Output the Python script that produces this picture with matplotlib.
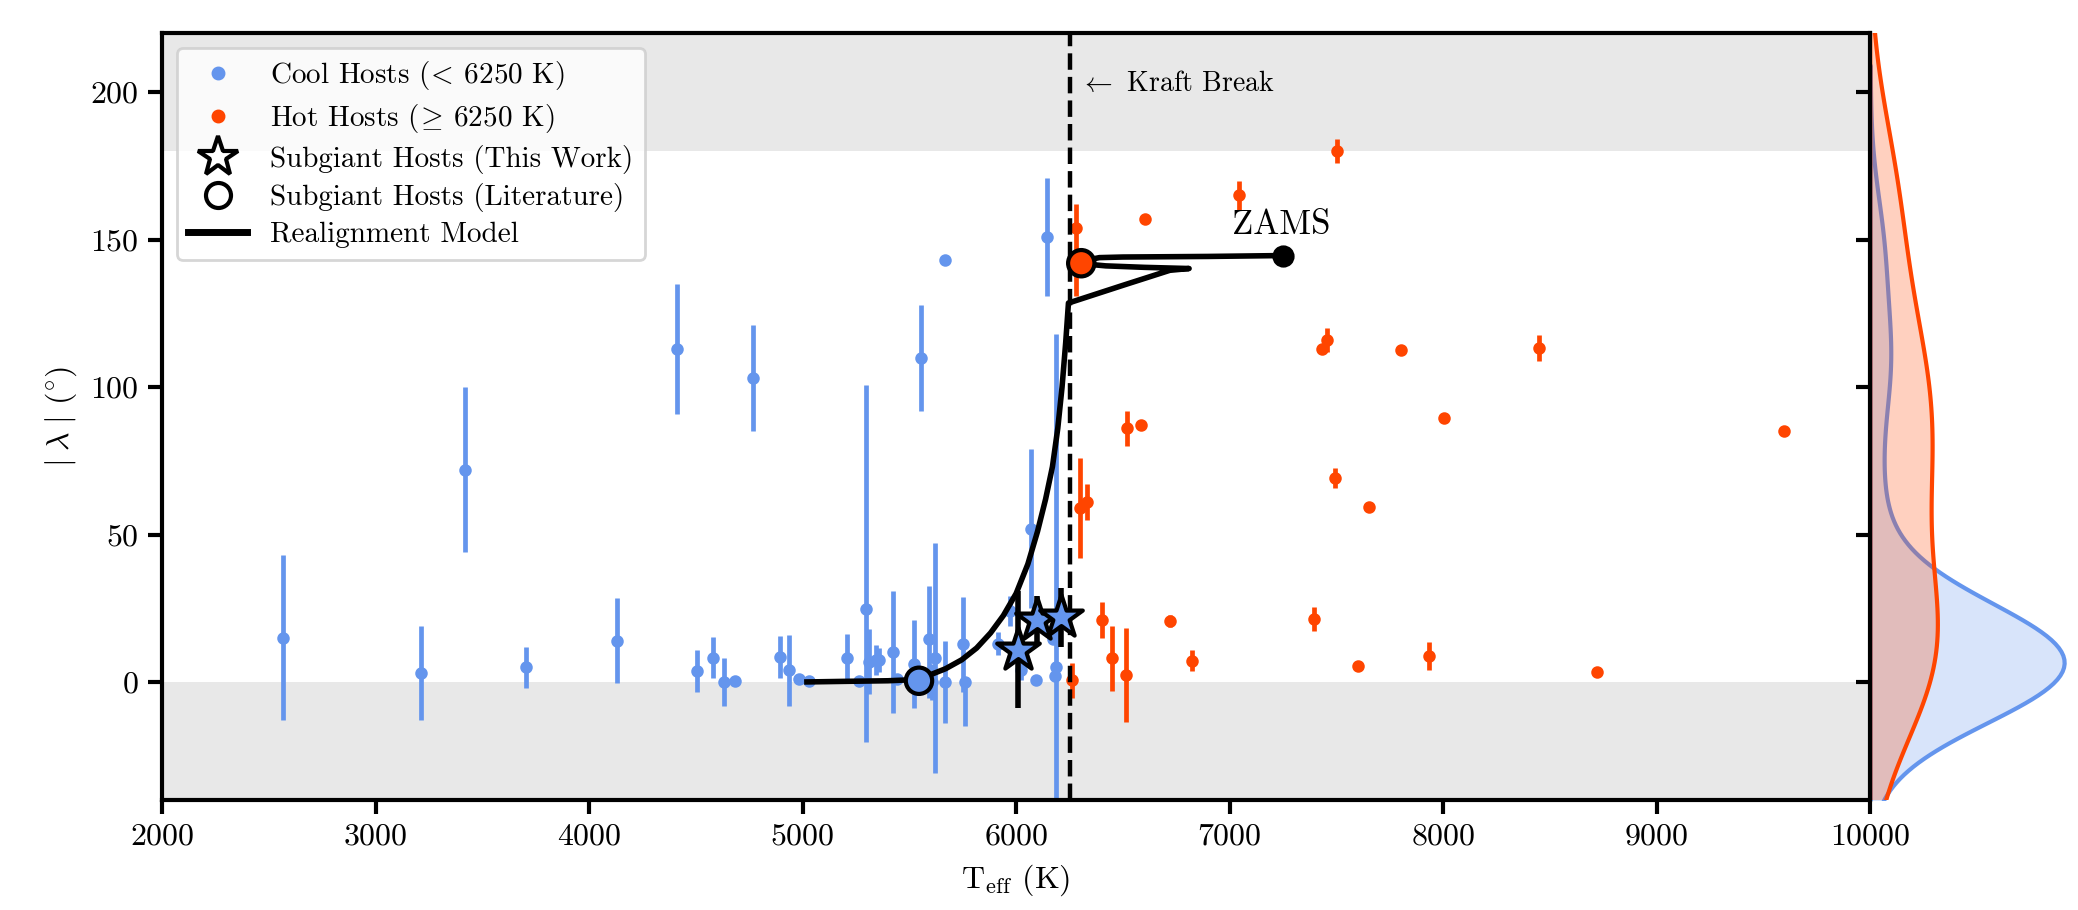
import numpy as np
import matplotlib
import matplotlib.pyplot as plt
import seaborn as sns
from matplotlib.lines import Line2D

plt.rcParams['font.family'] = 'serif'
plt.rcParams['font.serif'] = ['cmr10']
plt.rcParams['mathtext.fontset'] = 'cm'
plt.rcParams['axes.formatter.use_mathtext'] = True
plt.rcParams['axes.unicode_minus'] = False

# 冷主星 (< 6250 K)
cool_teff = [2565, 3213, 3420, 3703, 4131, 4412, 4506, 4581, 4631, 4685, 4766, 4895, 4935, 4982,
             5031, 5210, 5264, 5298, 5311, 5342, 5357, 5421, 5443, 5520, 5556, 5590, 5606, 5621,
             5668, 5668, 5753, 5761, 5916, 5971, 6025, 6068, 6095, 6146, 6172, 6180, 6188]
cool_lam = [15, 3, 72, 5, 14, 113, 3.7, 8.2, 0, 0.4, 103, 8.5, 4, 1.1,
            0.4, 8.2, 0.4, 24.8, 6.8, 7.5, 7.5, 10.2, 1, 6, 110, 14.5, 0, 8,
            0, 143, 12.7, 0, 13, 24, 4, 52, 0.7, 151, 14.5, 2, 5]
cool_err_lo = [28, 16, 28, 7, 14.5, 22, 7, 7, 8, 0, 18, 7, 12, 0,
               0, 8, 0, 45, 11, 5, 4, 20.6, 0, 15, 18, 20, 6, 39,
               14, 0, 16, 15, 4, 5, 3.5, 27, 0, 20, 0, 0, 115]
cool_err_hi = [28, 16, 28, 7, 14.5, 22, 7, 7, 8, 0, 18, 7, 12, 0,
               0, 8, 0, 76, 11, 5, 4, 20.6, 0, 15, 18, 18, 6, 39,
               14, 0, 16, 0, 4, 5, 3.5, 27, 0, 20, 0, 0, 113]

# 热主星 (>= 6250 K)
hot_teff = [6262, 6281, 6300, 6331, 6400, 6450, 6516, 6520, 6586, 6602, 6722, 6822, 7045,
            7395, 7433, 7456, 7492, 7502, 7600, 7652, 7802, 7933, 8003, 8451, 8720, 9597]
hot_lam = [0.5, 154, 59, 61, 21, 8, 2.3, 86, 87, 157, 20.7, 7.2, 165,
           21.3, 113, 116, 69.2, 180, 5.5, 59.2, 112.6, 8.9, 89.5, 113.2, 3.5, 85]
hot_err_lo = [6, 23, 17, 6, 6, 11, 16, 6, 0, 0, 2, 3.6, 4.8,
              4, 0, 4, 3.3, 4, 0, 0, 0, 4.8, 0, 4.4, 1.5, 0]
hot_err_hi = [6, 8, 17, 6, 6, 11, 16, 6, 0, 0, 2, 3.6, 4.8,
              4, 0, 4, 3.3, 4, 0, 0, 0, 4.8, 0, 4.4, 1.5, 0]

# 本工作的亚巨星
sg_teff = [6010, 6100, 6210]
sg_lam = [11, 21, 22]
sg_err = [20, 8, 10]

# 文献中的亚巨星
lit_teff = [5545, 6305]
lit_lam = [0.4, 142]
lit_color = ['cornflowerblue', 'orangered']

# 重新对齐模型轨迹
model_teff = [7250, 6900, 6500, 6390, 6355, 6345, 6360, 6420, 6600, 6810, 6720, 6500, 6245,
              6232, 6215, 6195, 6170, 6138, 6100, 6055, 6000, 5940, 5880, 5815, 5745, 5670,
              5590, 5531, 5400, 5200, 5020]
model_lam = [144.6, 144.3, 144.1, 143.9, 143.4, 142.3, 141.5, 141.1, 140.6, 140.2, 139.6, 134.5, 128.5,
             115, 100, 86, 73, 62, 51, 40, 30, 22.5, 16.6, 11.5, 7.5, 4.5,
             2.2, 0.8, 0.4, 0.2, 0.0]
zams = (7250, 144.6)

kraft = 6250

fig = plt.figure(figsize=(10.39, 4.55), dpi=200)
ax = fig.add_axes([0.078, 0.121, 0.822, 0.8425])
axk = fig.add_axes([0.900, 0.121, 0.098, 0.8425], sharey=ax)

ax.axhspan(180, 220, color='#e8e8e8', lw=0, zorder=0)
ax.axhspan(-40, 0, color='#e8e8e8', lw=0, zorder=0)

ax.errorbar(cool_teff, cool_lam, yerr=[cool_err_lo, cool_err_hi], fmt='o', color='cornflowerblue',
            ms=3.5, elinewidth=1.7, capsize=0, zorder=2)
ax.errorbar(hot_teff, hot_lam, yerr=[hot_err_lo, hot_err_hi], fmt='o', color='orangered',
            ms=3.5, elinewidth=1.7, capsize=0, zorder=2)

ax.axvline(kraft, color='k', ls='--', lw=1.6, zorder=3)
ax.text(6300, 203, r'$\leftarrow$ Kraft Break', fontsize=10, va='center')

ax.plot(model_teff, model_lam, color='k', lw=2, zorder=4)
ax.plot(*zams, 'o', color='k', ms=7, zorder=5)
ax.text(zams[0] - 10, zams[1] + 5, 'ZAMS', fontsize=12.5, ha='center', va='bottom')

ax.scatter(lit_teff, lit_lam, s=90, c=lit_color, edgecolors='k', linewidths=1.5, zorder=6)
ax.errorbar(sg_teff, sg_lam, yerr=sg_err, fmt='none', ecolor='k', elinewidth=2, capsize=0, zorder=6)
ax.scatter(sg_teff, sg_lam, s=260, marker='*', c='cornflowerblue', edgecolors='k',
           linewidths=1.5, zorder=7)

ax.set_xlim(2000, 10000)
ax.set_ylim(-40, 220)
ax.set_xticks([2000, 3000, 4000, 5000, 6000, 7000, 8000, 9000, 10000])
ax.set_yticks([0, 50, 100, 150, 200])
ax.set_xlabel(r'T$_{\rm eff}$ (K)', fontsize=11.5)
ax.set_ylabel(r'$|\;\lambda\;|$ ($^{\circ}$)', fontsize=11.5)
ax.tick_params(labelsize=11.5, width=1.5, length=5)
for s in ax.spines.values():
    s.set_linewidth(1.5)
ax.spines['right'].set_visible(False)

handles = [
    Line2D([], [], ls='none', marker='o', color='cornflowerblue', ms=4),
    Line2D([], [], ls='none', marker='o', color='orangered', ms=4),
    Line2D([], [], ls='none', marker='*', mfc='white', mec='k', mew=1.5, ms=15),
    Line2D([], [], ls='none', marker='o', mfc='white', mec='k', mew=1.5, ms=9),
    Line2D([], [], color='k', lw=2.5),
]
labels = [r'Cool Hosts ($\!<\!$ 6250 K)', r'Hot Hosts ($\!\geq\!$ 6250 K)', 'Subgiant Hosts (This Work)',
          'Subgiant Hosts (Literature)', 'Realignment Model']
ax.legend(handles, labels, loc='upper left', fontsize=10.5, labelspacing=0.33)

# 边缘核密度分布
sns.kdeplot(y=cool_lam, ax=axk, color='cornflowerblue', fill=True, alpha=0.25, linewidth=1.5)
sns.kdeplot(y=hot_lam, ax=axk, color='orangered', fill=True, alpha=0.25, linewidth=1.5)
axk.set_xlim(0, None)
axk.margins(x=0.01)
axk.set_ylim(-40, 220)
axk.set_xlabel('')
axk.set_ylabel('')
axk.set_xticks([])
axk.tick_params(axis='y', labelleft=False, width=1.5, length=5)
for k in ['top', 'right', 'bottom']:
    axk.spines[k].set_visible(False)
axk.spines['left'].set_linewidth(1.5)
axk.patch.set_alpha(0)

plt.savefig('out.png', dpi=200)
plt.close()
